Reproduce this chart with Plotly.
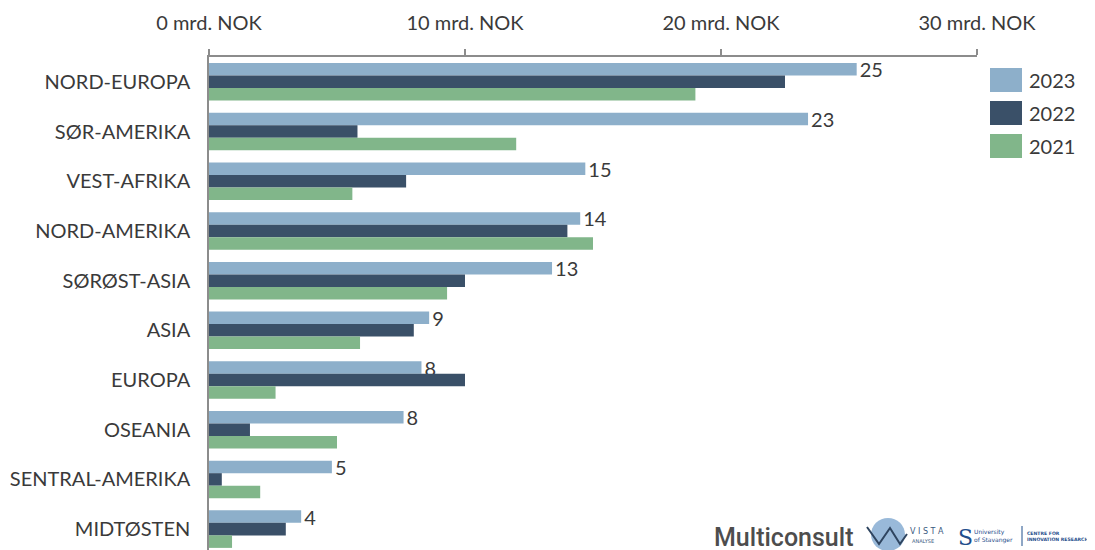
import plotly.graph_objects as go

regions = ["NORD-EUROPA", "SØR-AMERIKA", "VEST-AFRIKA", "NORD-AMERIKA", "SØRØST-ASIA",
           "ASIA", "EUROPA", "OSEANIA", "SENTRAL-AMERIKA", "MIDTØSTEN"]
v2023 = [25.3, 23.4, 14.7, 14.5, 13.4, 8.6, 8.3, 7.6, 4.8, 3.6]
v2022 = [22.5, 5.8, 7.7, 14.0, 10.0, 8.0, 10.0, 1.6, 0.5, 3.0]
v2021 = [19.0, 12.0, 5.6, 15.0, 9.3, 5.9, 2.6, 5.0, 2.0, 0.9]
years = ["2023", "2022", "2021"]
tick_vals = [0, 10, 20, 30]
tick_text = ["0 mrd. NOK", "10 mrd. NOK", "20 mrd. NOK", "30 mrd. NOK"]

colors = {"2023": "#8DAFCA", "2022": "#3A5068", "2021": "#81B68A"}
FONT = "Lato, Carlito, Calibri, sans-serif"
TXT = "#3a3a3a"
FS = 20

fig = go.Figure()
for yr, vals in zip(years, [v2023, v2022, v2021]):
    fig.add_trace(go.Bar(
        y=regions, x=vals, orientation="h", name=yr,
        marker=dict(color=colors[yr], line=dict(width=0)),
        text=[f"{round(v)}" for v in vals] if yr == "2023" else None,
        textposition="outside" if yr == "2023" else "none",
        constraintext="none",
        textfont=dict(size=FS, color=TXT, family=FONT),
        cliponaxis=False, showlegend=False,
    ))

# The page body adds an 8px offset; margins compensate so the plot area sits at
# screen x 209..977 and y 57..550.
fig.update_layout(
    width=1095, height=550,
    margin=dict(l=201, r=126, t=49, b=8, autoexpand=False),
    barmode="group", bargap=0.245, bargroupgap=0,
    plot_bgcolor="white", paper_bgcolor="white",
    font=dict(family=FONT, size=FS, color=TXT),
    xaxis=dict(side="top", range=[0, 30], tickvals=tick_vals, ticktext=tick_text,
               showgrid=False, zeroline=False, showline=True, linecolor="#8c8c8c",
               linewidth=1.5, ticks="outside", ticklen=6, tickcolor="#8c8c8c",
               tickwidth=1.5, ticklabelstandoff=11, automargin=False,
               tickfont=dict(size=FS, color=TXT)),
    yaxis=dict(range=[9.42, -0.5], autorange=False, showgrid=False, zeroline=False,
               showline=True, linecolor="#8c8c8c", linewidth=1.5, ticks="",
               ticklabelstandoff=13, automargin=False,
               tickfont=dict(size=FS, color=TXT)),
)


def px(x):
    return (x - 209) / 768


def py(y):
    return (550 - y) / 493


# Manual legend
leg_y = [80, 113, 146]
for yr, yc in zip(years, leg_y):
    fig.add_shape(type="rect", xref="paper", yref="paper",
                  x0=px(990), x1=px(1022), y0=py(yc + 12), y1=py(yc - 12),
                  fillcolor=colors[yr], line=dict(width=0))
    fig.add_annotation(xref="paper", yref="paper", x=px(1027), y=py(yc), text=yr,
                       showarrow=False, xanchor="left", yanchor="middle",
                       font=dict(size=FS, color=TXT, family=FONT))

# Logos (approximated as text and simple shapes)
fig.add_annotation(xref="paper", yref="paper", x=px(712), y=py(537), text="Multiconsult",
                   showarrow=False, xanchor="left", yanchor="middle",
                   font=dict(size=25, color="#4d4d4d", family="Roboto, sans-serif",
                             weight=500))
fig.add_shape(type="circle", xref="paper", yref="paper",
              x0=px(871), x1=px(905), y0=py(551), y1=py(518),
              fillcolor="#7fa7cf", line=dict(width=0), opacity=0.8)
fig.add_shape(type="path", xref="paper", yref="paper",
              path=f"M {px(867)} {py(527)} L {px(879)} {py(544)} L {px(890)} {py(528)} "
                   f"L {px(900)} {py(544)} L {px(907)} {py(534)}",
              line=dict(color="#2f4560", width=2))
fig.add_annotation(xref="paper", yref="paper", x=px(908), y=py(531),
                   text="V I S T A", showarrow=False, xanchor="left", yanchor="middle",
                   font=dict(size=8, color="#3a5a80", family="DejaVu Sans"))
fig.add_annotation(xref="paper", yref="paper", x=px(910), y=py(541), text="ANALYSE",
                   showarrow=False, xanchor="left", yanchor="middle",
                   font=dict(size=5, color="#3a5a80", family="DejaVu Sans"))
fig.add_annotation(xref="paper", yref="paper", x=px(956), y=py(537), text="S",
                   showarrow=False, xanchor="left", yanchor="middle",
                   font=dict(size=22, color="#1f4e8c", family="DejaVu Serif"))
fig.add_annotation(xref="paper", yref="paper", x=px(972), y=py(536),
                   text="University<br>of Stavanger", showarrow=False, xanchor="left",
                   yanchor="middle", align="left",
                   font=dict(size=6, color="#1f4e8c", family="DejaVu Sans"))
fig.add_shape(type="line", xref="paper", yref="paper", x0=px(1022), x1=px(1022),
              y0=py(546), y1=py(526), line=dict(color="#1f4e8c", width=1))
fig.add_annotation(xref="paper", yref="paper", x=px(1025), y=py(536),
                   text="<b>CENTRE FOR<br>INNOVATION RESEARCH</b>", showarrow=False,
                   xanchor="left", yanchor="middle", align="left",
                   font=dict(size=4.6, color="#1f4e8c", family="DejaVu Sans"))

fig.write_html("out.html")
